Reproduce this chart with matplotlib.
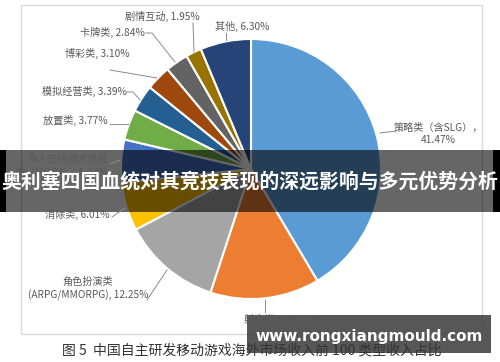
import matplotlib
matplotlib.use('Agg')
import matplotlib.pyplot as plt
from matplotlib.patches import Rectangle

plt.rcParams['font.family'] = ['Noto Sans CJK SC', 'DejaVu Sans']

# slices, clockwise from 12 o'clock
categories = ['策略类（含SLG）', '射击类', '角色扮演类\n(ARPG/MMORPG)', '消除类',
              '多人在线战术竞技\n类（MOBA）', '放置类', '模拟经营类', '博彩类',
              '卡牌类', '剧情互动', '其他']
shares = [41.47, 13.58, 12.25, 6.01, 5.34, 3.77, 3.39, 3.10, 2.84, 1.95, 6.30]
colors = ['#5b9bd5', '#ed7d31', '#a5a5a5', '#ffc000', '#4472c4', '#70ad47',
          '#255e91', '#9e480e', '#636363', '#997300', '#264478']

title = '奥利塞四国血统对其竞技表现的深远影响与多元优势分析'
caption = '图 5  中国自主研发移动游戏海外市场收入前 100 类型收入占比'
url = 'www.rongxiangmould.com'

W, H = 500, 362
fig = plt.figure(figsize=(5, 3.62), dpi=100)
ax = fig.add_axes([0, 0, 1, 1])

def Y(y):
    return H - y

ax.pie(shares, colors=colors, startangle=90, counterclock=False,
       center=(251, Y(169)), radius=130,
       wedgeprops=dict(edgecolor='white', linewidth=1.5))
ax.set_xlim(0, W)
ax.set_ylim(0, H)
ax.set_aspect('auto')
ax.axis('off')

# chart frame
ax.add_patch(Rectangle((21, Y(334)), 461, 329, fill=False, edgecolor='#d9d9d9', lw=1))

lc = '#8c8c8c'
tc = '#595959'
fs = 7.3

# label text: (text, x, y, ha)
labels = [
    ('策略类（含SLG），\n%.2f%%' % shares[0], 438, 134, 'center'),
    ('射击类, %.2f%%' % shares[1], 279, 319, 'center'),
    ('角色扮演类\n(ARPG/MMORPG), %.2f%%' % shares[2], 88, 289, 'center'),
    ('消除类, %.2f%%' % shares[3], 110, 214, 'right'),
    ('多人在线战术竞技\n类（MOBA）, %.2f%%' % shares[4], 108, 166, 'right'),
    ('放置类, %.2f%%' % shares[5], 108, 120, 'right'),
    ('模拟经营类, %.2f%%' % shares[6], 127, 91, 'right'),
    ('博彩类, %.2f%%' % shares[7], 130, 53, 'right'),
    ('卡牌类, %.2f%%' % shares[8], 145, 32, 'right'),
    ('剧情互动, %.2f%%' % shares[9], 200, 16, 'right'),
    ('其他, %.2f%%' % shares[10], 242, 26, 'center'),
]
for t, x, y, ha in labels:
    ax.text(x, Y(y), t, ha=ha, va='center', fontsize=fs, color=tc, linespacing=1.3)

leaders = [
    [(380, 133), (396, 131)],
    [(265, 300), (265, 312)],
    [(147, 300), (167, 270)],
    [(112, 217), (125, 208)],
    [(110, 164), (120, 160)],
    [(110, 124), (128, 124)],
    [(127, 92), (133, 92), (140, 100)],
    [(110, 70), (157, 78)],
    [(146, 33), (152, 33), (175, 62)],
    [(193, 23), (194, 52)],
    [(226, 33), (226, 40)],
]
for pts in leaders:
    ax.plot([p[0] for p in pts], [Y(p[1]) for p in pts], color=lc, lw=0.7)

ax.text(252, Y(350), caption, ha='center', va='center', fontsize=10, color='#333333')

# title banner
ax.add_patch(Rectangle((0, Y(212)), W, 62, facecolor='black', alpha=0.6, edgecolor='none'))
ax.add_patch(Rectangle((0, Y(212)), 6, 62, facecolor='black', edgecolor='none'))
ax.add_patch(Rectangle((493, Y(212)), 7, 62, facecolor='black', edgecolor='none'))
ax.text(250, Y(181), title, ha='center', va='center', fontsize=14.3,
        color='white', fontweight='bold')

# url watermark
ax.add_patch(Rectangle((247, Y(353)), 244, 38, facecolor='#3a3a3a', alpha=0.85, edgecolor='none'))
ax.text(369, Y(336), url, ha='center', va='center', fontsize=11,
        color='white', fontweight='bold', family='DejaVu Sans')

fig.savefig('out.png', dpi=100)
